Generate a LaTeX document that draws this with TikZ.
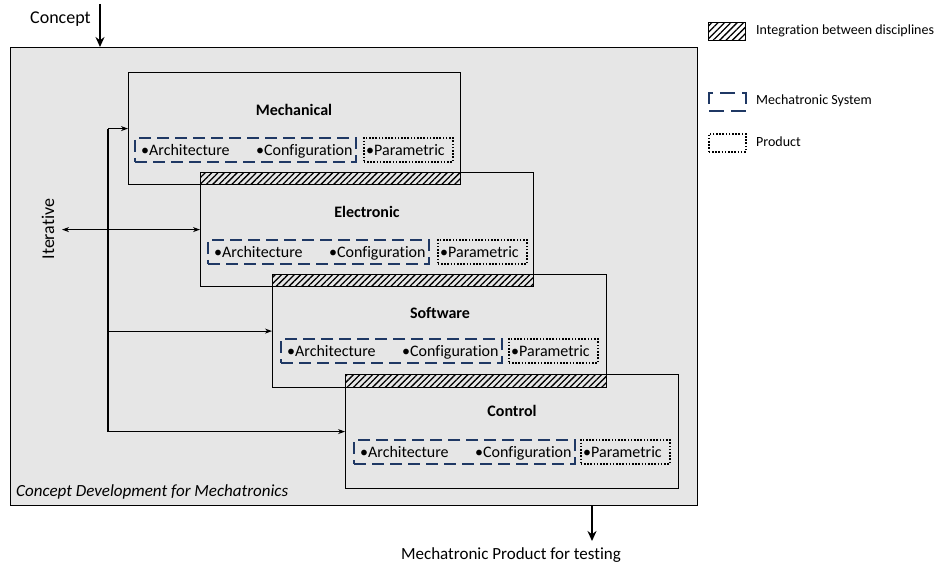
\documentclass[tikz,border=0pt]{standalone}
\usepackage{fontspec}
\setmainfont{Carlito}[RawFeature=-liga]
\usetikzlibrary{arrows.meta,patterns.meta,calc}
\definecolor{bggray}{HTML}{E6E6E6}
\definecolor{navy}{HTML}{1F3864}
\tikzset{
  mainbox/.style={draw=black, line width=1.3pt, fill=bggray, anchor=north west, inner sep=0pt},
  discbox/.style={draw=black, line width=1.2pt, fill=bggray, anchor=north west, inner sep=0pt},
  hatchbox/.style={draw=black, line width=1.2pt, pattern={Lines[angle=45,distance=4.5pt,line width=1.3pt]}, anchor=north west, inner sep=0pt},
  sysbox/.style={draw=navy, line width=2pt, dash pattern=on 12pt off 6pt, anchor=north west, inner sep=0pt, minimum width=221pt, minimum height=24pt},
  prodbox/.style={draw=black, line width=1.6pt, dash pattern=on 1.6pt off 1.6pt, anchor=north west, inner sep=0pt, minimum width=89pt, minimum height=24pt},
  title/.style={font=\fontsize{16}{18}\selectfont\bfseries},
  item/.style={font=\fontsize{16}{18}\selectfont, anchor=base west, inner sep=0pt},
  legtext/.style={font=\fontsize{14}{16}\selectfont, anchor=west, inner sep=0pt},
  bigtext/.style={font=\fontsize{18}{20}\selectfont, inner sep=0pt},
  arr/.style={line width=1.2pt, -{Stealth[length=7pt,width=5pt]}},
  dblarr/.style={line width=1.2pt, {Stealth[length=7pt,width=5pt]}-{Stealth[length=7pt,width=5pt]}},
  thickarr/.style={line width=2.6pt, -{Stealth[length=10pt,width=9pt]}},
}
\begin{document}
\begin{tikzpicture}[x=1pt,y=-1pt]
\useasboundingbox (0,0) rectangle (937,569);
% main frame
\node[mainbox, minimum width=687pt, minimum height=458pt] (main) at (10,47) {};
\node[anchor=south west, font=\fontsize{17}{19}\selectfont\itshape, inner sep=0pt] (maintitle) at (16,499) {Concept Development for Mechatronics};
% discipline boxes
\node[discbox, minimum width=332pt, minimum height=112pt] (mech) at (128,72) {};
\node[discbox, minimum width=333pt, minimum height=114pt] (elec) at (200,172) {};
\node[discbox, minimum width=334pt, minimum height=113pt] (soft) at (272,274) {};
\node[discbox, minimum width=333pt, minimum height=114pt] (ctrl) at (345,374) {};
% hatched overlaps
\node[hatchbox, minimum width=260pt, minimum height=12pt] (h1) at (200,172) {};
\node[hatchbox, minimum width=261pt, minimum height=12pt] (h2) at (272,274) {};
\node[hatchbox, minimum width=261pt, minimum height=13pt] (h3) at (345,374) {};
% titles
\node[title] (mecht) at (294,110) {Mechanical};
\node[title] (elect) at (367,212) {Electronic};
\node[title] (softt) at (440,313) {Software};
\node[title] (ctrlt) at (512,411) {Control};
% inner boxes
\node[sysbox] (ms) at (134,137) {};
\node[prodbox] (mp) at (363,137) {};
\node[sysbox] (es) at (207,239) {};
\node[prodbox] (ep) at (437,239) {};
\node[sysbox] (ss) at (280,338) {};
\node[prodbox] (sp) at (508,338) {};
\node[sysbox] (cs) at (353,439) {};
\node[prodbox] (cp) at (580,439) {};
% items
\foreach \s/\p in {ms/mp,es/ep,ss/sp,cs/cp}{
  \node[item] (\s a) at ($(\s.west)+(7,5.5)$) {•Architecture};
  \node[item] (\s c) at ($(\s.west)+(122,5.5)$) {•Configuration};
  \node[item] (\p t) at ($(\p.west)+(3,5.5)$) {•Parametric};
}
% connectors
\coordinate (bus) at (108,0);
\draw[line width=1.2pt] (bus |- mech.west) -- (bus |- ctrl.west);
\draw[arr] (bus |- mech.west) -- (mech.west);
\draw[arr] (bus |- soft.west) -- (soft.west);
\draw[arr] (bus |- ctrl.west) -- (ctrl.west);
\coordinate (iterL) at (62,0);
\draw[dblarr] (iterL |- elec.west) -- (elec.west);
\node[bigtext, rotate=90] (iter) at (48,229) {Iterative};
% concept input
\node[bigtext, anchor=west] (concept) at (30,19) {Concept};
\coordinate (cin) at (100,4);
\draw[thickarr] (cin) -- (cin |- main.north);
% output
\coordinate (cout) at (592,0);
\coordinate (outend) at (592,541);
\draw[thickarr] (cout |- main.south) -- (outend);
\node[font=\fontsize{17}{19}\selectfont, inner sep=0pt] (outtext) at (511,555) {Mechatronic Product for testing};
% legend
\node[hatchbox, minimum width=37pt, minimum height=18pt] (lh) at (708,22) {};
\node[legtext] (lht) at (756,31) {Integration between disciplines};
\node[draw=navy, line width=2pt, dash pattern=on 15pt off 7pt, anchor=north west, inner sep=0pt, minimum width=37pt, minimum height=18pt] (ls) at (708,92) {};
\node[legtext] (lst) at (756,101) {Mechatronic System};
\node[prodbox, minimum width=37pt, minimum height=18pt] (lp) at (708,133) {};
\node[legtext] (lpt) at (756,142) {Product};
\end{tikzpicture}
\end{document}
